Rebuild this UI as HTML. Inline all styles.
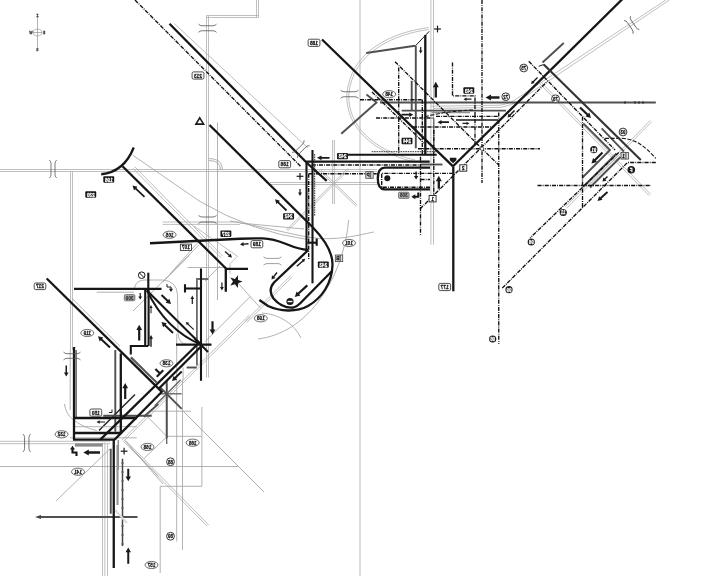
<!DOCTYPE html>
<html><head><meta charset="utf-8"><title>diagram</title>
<style>
html,body{margin:0;padding:0;background:#fff;overflow:hidden}
svg{display:block;font-family:"Liberation Sans",sans-serif}
line,path,polyline{fill:none}
.k{stroke:#161616;stroke-width:2.3}
.k2{stroke:#161616;stroke-width:2.1}
.k1{stroke:#1a1a1a;stroke-width:1.0}
.dg{stroke:#505050;stroke-width:1.9}
.dg2{stroke:#606060;stroke-width:1.3}
.mg{stroke:#909090;stroke-width:1.5}
.g{stroke:#a0a0a0;stroke-width:0.8}
.lg{stroke:#a9a9a9;stroke-width:0.75}
.vl{stroke:#dcdcdc;stroke-width:2.0}
.dd{stroke:#111;stroke-width:1.35;stroke-dasharray:4.1 1.1 0.9 1.1}
.dt{stroke:#333;stroke-width:1.0;stroke-dasharray:1.6 0.8}
.ds{stroke:#1a1a1a;stroke-width:1.15;stroke-dasharray:4 1.6}
.pl{stroke:#1a1a1a;stroke-width:1.2}
</style></head><body>
<svg width="720" height="576" viewBox="0 0 720 576" style="opacity:0.999">
<defs><filter id="nf" x="-20%" y="-20%" width="140%" height="140%"><feOffset dx="0" dy="0"/></filter></defs>
<rect width="720" height="576" fill="#fff"/>
<line class="vl" x1="360" y1="0" x2="360" y2="576"/>
<line class="lg" x1="206.5" y1="15.5" x2="206.5" y2="377.5"/>
<line class="lg" x1="208.5" y1="15.5" x2="208.5" y2="377.5"/>
<line class="lg" x1="206.5" y1="17.5" x2="258.5" y2="17.5"/>
<line class="lg" x1="206.5" y1="15.5" x2="258.5" y2="15.5"/>
<line class="lg" x1="256.5" y1="0.0" x2="256.5" y2="17.5"/>
<line class="lg" x1="258.5" y1="0.0" x2="258.5" y2="17.5"/>
<line class="lg" x1="0.0" y1="171.5" x2="310.0" y2="171.5"/>
<line class="lg" x1="0.0" y1="169.5" x2="310.0" y2="169.5"/>
<line class="lg" x1="70.5" y1="171.5" x2="70.5" y2="350.0"/>
<line class="lg" x1="72.5" y1="171.5" x2="72.5" y2="350.0"/>
<line class="g" x1="70.2" y1="350" x2="70.2" y2="410"/>
<line class="lg" x1="0.0" y1="443.7" x2="110.0" y2="443.7"/>
<line class="lg" x1="0.0" y1="441.3" x2="110.0" y2="441.3"/>
<line class="lg" x1="102.5" y1="442.5" x2="102.5" y2="576.0"/>
<line class="lg" x1="104.9" y1="442.5" x2="104.9" y2="576.0"/>
<line class="lg" x1="107.5" y1="444" x2="107.5" y2="576"/>
<line class="lg" x1="430.9" y1="0.0" x2="430.9" y2="244.7"/>
<line class="lg" x1="433.5" y1="0.0" x2="433.5" y2="244.7"/>
<path class="lg" d="M431,106.2 L500,105.2 Q510,104 520,96.5 L666.5,-0.5"/>
<path class="lg" d="M433,108.4 L501,107.4 Q512,106 522,98.7 L669.5,0"/>
<path class="lg" d="M428.8,29.5 C395,34 352,52 348.8,95 C348,125 372,150 415,160"/>
<path class="lg" d="M428.8,27.5 C394,32 350,50 346.8,95 C346,126 371,152 415,162"/>
<line class="lg" x1="539.28" y1="83.2" x2="649.28" y2="195.7"/>
<line class="lg" x1="540.72" y1="81.8" x2="650.72" y2="194.3"/>
<line class="lg" x1="650.29" y1="120.3" x2="565.29" y2="206.8"/>
<line class="lg" x1="651.71" y1="121.7" x2="566.71" y2="208.2"/>
<line class="lg" x1="132.9" y1="168.34" x2="221.15" y2="257.84"/>
<line class="lg" x1="134.6" y1="166.66" x2="222.85" y2="256.16"/>
<line class="lg" x1="174.5" y1="23.75" x2="308" y2="148"/>
<line class="lg" x1="332.6" y1="140.0" x2="332.6" y2="204.0"/>
<line class="lg" x1="334.4" y1="140.0" x2="334.4" y2="204.0"/>
<line class="lg" x1="347.73" y1="168.44" x2="286.43" y2="229.94"/>
<line class="lg" x1="348.87" y1="169.56" x2="287.57" y2="231.06"/>
<line class="lg" x1="319.44" y1="170.57" x2="356.14" y2="206.37"/>
<line class="lg" x1="320.56" y1="169.43" x2="357.26" y2="205.23"/>
<line class="lg" x1="249.3" y1="315.09" x2="121.8" y2="440.29"/>
<line class="lg" x1="250.7" y1="316.51" x2="123.2" y2="441.71"/>
<line class="lg" x1="270.0" y1="184.5" x2="377.0" y2="184.5"/>
<line class="lg" x1="270.0" y1="182.5" x2="377.0" y2="182.5"/>
<line class="lg" x1="310.0" y1="171.5" x2="377.0" y2="171.5"/>
<line class="lg" x1="310.0" y1="169.5" x2="377.0" y2="169.5"/>
<line class="g" x1="217.5" y1="122.5" x2="217.5" y2="300"/>
<path class="g" d="M209,158.5 Q222.5,158.5 222.5,170"/>
<path class="g" d="M209,160.5 Q220.5,160.5 220.5,170"/>
<path class="g" d="M132.5,155 L200,201.5 Q252,232 308,239.6"/>
<line class="lg" x1="162.5" y1="224.4" x2="240.0" y2="224.4"/>
<line class="lg" x1="162.5" y1="222.0" x2="240.0" y2="222.0"/>
<polyline class="lg" points="193.75,226 237.5,256.25 230,263.75 230,273.75"/>
<line class="g" x1="198.75" y1="245" x2="162.5" y2="282.5"/>
<line class="g" x1="220" y1="266" x2="205" y2="281"/>
<line class="g" x1="187.5" y1="267.5" x2="225" y2="267.5"/>
<line class="g" x1="240" y1="223" x2="304" y2="229"/>
<line class="lg" x1="290.99" y1="275.3" x2="245.29" y2="321.3"/>
<line class="lg" x1="292.41" y1="276.7" x2="246.71" y2="322.7"/>
<line class="g" x1="200" y1="240" x2="170" y2="274"/>
<line class="g" x1="189.6" y1="255" x2="133" y2="311"/>
<line class="g" x1="250" y1="296.7" x2="205" y2="341.7"/>
<path class="g" d="M134.4,288.3 Q136,280 144.8,280 L162.5,280 Q177,281 177.5,295 L178,334 Q179,344 187.5,344.6"/>
<path class="g" d="M348.75,220 C346,250 335,280 318,302 C303,322 282,336 258,339"/>
<path class="g" d="M262,313 C280,314 295,325 301,338"/>
<path class="g" d="M230,221 C260,226 290,234 310,237.5 C335,241 355,236 373.75,232"/>
<line class="g" x1="237.5" y1="282.5" x2="260" y2="307.5"/>
<line class="g" x1="0" y1="466.5" x2="238.8" y2="466.5"/>
<line class="g" x1="110" y1="448.75" x2="56" y2="501"/>
<line class="lg" x1="124.29" y1="441.95" x2="207.29" y2="526.4"/>
<line class="lg" x1="125.71" y1="440.55" x2="208.71" y2="525.0"/>
<line class="g" x1="183" y1="411" x2="264.1" y2="492.1"/>
<line class="g" x1="146.7" y1="415.8" x2="167" y2="436.7"/>
<line class="g" x1="167" y1="436.7" x2="144.2" y2="458.3"/>
<line class="g" x1="130" y1="446.7" x2="158.3" y2="476"/>
<line class="g" x1="151.7" y1="411.2" x2="190.8" y2="411.2"/>
<line class="g" x1="167" y1="436.3" x2="201.7" y2="436.3"/>
<line class="g" x1="182.5" y1="380" x2="182.5" y2="550"/>
<polyline class="g" points="201.9,407 201.9,486.3 160.2,486.3 160.2,573"/>
<line class="g" x1="176.7" y1="334" x2="176.7" y2="541.6"/>
<line class="g" x1="183.1" y1="367.5" x2="183.1" y2="380"/>
<line class="g" x1="125" y1="440.7" x2="163" y2="484"/>
<line class="dg" x1="380" y1="102.5" x2="655.8" y2="102.5"/>
<line class="k1" x1="625" y1="101.2" x2="625" y2="103.8"/>
<line class="k1" x1="635" y1="101.2" x2="635" y2="103.8"/>
<line class="k1" x1="639" y1="101.2" x2="639" y2="103.8"/>
<line class="k1" x1="643" y1="101.2" x2="643" y2="103.8"/>
<line class="dg" x1="401.7" y1="110.6" x2="506" y2="110.6"/>
<line class="dg" x1="456" y1="120" x2="498" y2="120"/>
<line class="mg" x1="431.7" y1="112.6" x2="470" y2="112.6"/>
<line class="dg" x1="366.25" y1="53" x2="415" y2="45.75"/>
<line class="dg" x1="415.8" y1="45.75" x2="415.8" y2="148.3"/>
<line class="dg" x1="411.7" y1="80.8" x2="411.7" y2="110.8"/>
<polyline class="dg" points="341.25,133.75 376.5,102.5 366.5,94.5"/>
<line class="dg2" x1="433.8" y1="118.3" x2="433.8" y2="146"/>
<line class="dg" x1="542.5" y1="62.5" x2="563.75" y2="43"/>
<line class="dg" x1="420.8" y1="164.5" x2="442.5" y2="164.5"/>
<polyline class="dg" points="583.3,123.3 610,150 582.5,177.5"/>
<line class="dg" x1="601.7" y1="128.3" x2="624" y2="151.7"/>
<line class="dg" x1="616.5" y1="153.5" x2="584" y2="186"/>
<line class="dg" x1="620.5" y1="157" x2="590" y2="187.5"/>
<line class="lg" x1="618.3" y1="155.2" x2="587" y2="186.5"/>
<polyline points="208.3,279 196.9,279 196.9,365.4" fill="none" stroke="#6a6a6a" stroke-width="1.8"/>
<line class="dg" x1="115.3" y1="350" x2="115.3" y2="431.7"/>
<line class="dg" x1="130.8" y1="357.5" x2="156.7" y2="382.5"/>
<line x1="135" y1="394.5" x2="99" y2="430.5" stroke="#222" stroke-width="1.4"/>
<line class="dg" x1="158.3" y1="404" x2="143.75" y2="416.7"/>
<line class="dg" x1="103.3" y1="415.8" x2="151.7" y2="415.8"/>
<line x1="75" y1="445" x2="102.5" y2="445" stroke="#8a8a8a" stroke-width="3.2"/>
<line class="k1" x1="76.1" y1="350" x2="76.1" y2="418.9"/>
<line class="g" x1="74" y1="426.7" x2="136.7" y2="426.7"/>
<line class="g" x1="70" y1="437.8" x2="136.7" y2="437.8"/>
<path class="g" d="M64.4,403.9 Q66,414 72.2,418.9 Q82,427 96.7,430.6"/>
<line class="dg" x1="186.7" y1="367.5" x2="196.7" y2="367.5"/>
<line class="dg2" x1="131.25" y1="357" x2="144.8" y2="370.6"/>
<line class="dg" x1="110.75" y1="448.75" x2="110.75" y2="513.75"/>
<line x1="117.5" y1="445" x2="117.5" y2="505" stroke="#999" stroke-width="2.2"/>
<line x1="122.5" y1="458.75" x2="122.5" y2="546" stroke="#444" stroke-width="1.5"/>
<line class="dg2" x1="121.3" y1="463" x2="123.7" y2="463"/>
<line class="dg2" x1="121.3" y1="472" x2="123.7" y2="472"/>
<line class="dg2" x1="121.3" y1="481" x2="123.7" y2="481"/>
<line class="dg2" x1="121.3" y1="490" x2="123.7" y2="490"/>
<line class="dg2" x1="121.3" y1="499" x2="123.7" y2="499"/>
<line class="dg2" x1="121.3" y1="508" x2="123.7" y2="508"/>
<line class="dg2" x1="121.3" y1="517" x2="123.7" y2="517"/>
<line class="dg2" x1="121.3" y1="526" x2="123.7" y2="526"/>
<line class="dg2" x1="121.3" y1="535" x2="123.7" y2="535"/>
<line class="dg2" x1="121.3" y1="544" x2="123.7" y2="544"/>
<line class="mg" x1="118.3" y1="440" x2="118.3" y2="470"/>
<line class="dg2" x1="166.7" y1="384" x2="166.7" y2="444"/>
<line class="dg" x1="166.7" y1="380.8" x2="166.7" y2="438.3"/>
<line class="dg2" x1="158.7" y1="393.8" x2="181.7" y2="393.8"/>
<line class="dg2" x1="154.7" y1="405.8" x2="180.7" y2="379.8"/>
<line class="dg" x1="160.7" y1="387.8" x2="181.7" y2="408.8"/>
<line class="dg" x1="38" y1="517" x2="137.5" y2="517"/>
<polygon fill="#444" points="35,517 41,515 41,519"/>
<line class="vl" x1="115" y1="510" x2="127" y2="523"/>
<line class="dd" x1="135" y1="0" x2="301" y2="166.7"/>
<line class="dd" x1="395" y1="61.7" x2="474" y2="140.8"/>
<line class="dd" x1="398.7" y1="67.5" x2="398.7" y2="154"/>
<polyline class="dd" points="452.5,62.5 452.5,95.8 475,95.8 475,146"/>
<line class="dd" x1="482" y1="0" x2="482" y2="183"/>
<line class="dd" x1="360" y1="99.7" x2="423" y2="99.7"/>
<line class="dd" x1="376" y1="118" x2="434" y2="118"/>
<line class="dd" x1="436" y1="116.4" x2="498.5" y2="116.4"/>
<line class="dd" x1="422.3" y1="99.7" x2="422.3" y2="154"/>
<line class="dd" x1="413" y1="127" x2="491" y2="127"/>
<line class="dd" x1="372" y1="92" x2="424" y2="143"/>
<line class="dd" x1="420" y1="209" x2="547.5" y2="81.25"/>
<line class="dd" x1="528.75" y1="61.25" x2="615" y2="150"/>
<line class="dd" x1="582.5" y1="116.7" x2="582.5" y2="207.5"/>
<line class="dd" x1="498.75" y1="112.5" x2="498.75" y2="343.7"/>
<line class="dd" x1="480" y1="148.75" x2="540" y2="148.75"/>
<line class="dd" x1="476" y1="143" x2="498.75" y2="165"/>
<line class="dd" x1="418" y1="148.7" x2="482" y2="148.7"/>
<line class="dd" x1="537.5" y1="185.5" x2="651" y2="185.5"/>
<polyline class="dd" points="655.8,162.5 627.5,162.5 501.7,288.7"/>
<line class="dd" x1="618.75" y1="152.5" x2="530" y2="238"/>
<line class="dd" x1="311.7" y1="165" x2="420" y2="165"/>
<line class="dd" x1="308.7" y1="173.7" x2="376.7" y2="173.7"/>
<line class="dd" x1="308.7" y1="173.7" x2="308.7" y2="259.4"/>
<line class="dd" x1="420.5" y1="156.7" x2="420.5" y2="234.7"/>
<line class="dd" x1="433.8" y1="130" x2="433.8" y2="200"/>
<line class="dt" x1="371.7" y1="151.7" x2="436.7" y2="151.7"/>
<line class="dt" x1="314.7" y1="154" x2="314.7" y2="215.8"/>
<path class="dd" d="M430,187.2 L381.7,187.2 L381.7,173.3 L452.5,173.3"/>
<line class="dd" x1="420.5" y1="179.5" x2="430" y2="179.5"/>
<path class="ds" d="M605,138.3 L622,138.3 C638,139 648,150 655.8,158.3"/>
<path class="ds" d="M425,116.7 C440,113 455,110.5 473,110"/>
<line class="k" x1="169.5" y1="23.75" x2="307" y2="163"/>
<line class="k" x1="307" y1="163" x2="326.7" y2="180.8"/>
<line class="k" x1="322" y1="39.5" x2="453" y2="166.3"/>
<line class="k" x1="453" y1="166.3" x2="623.5" y2="-2"/>
<line class="k" x1="453.3" y1="166.5" x2="453.3" y2="291.3"/>
<line class="k" x1="425.3" y1="35" x2="425.3" y2="154.7"/>
<line class="k1" x1="429.25" y1="31.25" x2="415.5" y2="45.75"/>
<line class="k1" x1="538.75" y1="66.25" x2="543.75" y2="64.5"/>
<line x1="543.75" y1="64.5" x2="640.8" y2="160" stroke="#333" stroke-width="2.1"/>
<line class="k2" x1="347.5" y1="154.7" x2="436.7" y2="154.7"/>
<line class="k" x1="306.3" y1="161.7" x2="429.7" y2="161.7"/>
<line class="k2" x1="312.5" y1="150" x2="312.5" y2="283.3"/>
<line class="k2" x1="306.5" y1="162.5" x2="306.5" y2="249"/>
<path class="k" d="M430,167.6 L384.5,167.6 C379.5,168 377.8,172 377.8,178.5 C377.8,185 379.5,189 384.5,189.4 L430,189.4"/>
<circle cx="387.3" cy="178.2" r="3" fill="#1a1a1a"/>
<polygon fill="#1a1a1a" points="449.8,157.8 456.4,157.8 456.4,160.2 453.1,163.3 449.8,160.2"/>
<path class="k" d="M133.75,147.5 Q124,172 101.25,174.25"/>
<line class="k" x1="122.5" y1="166.25" x2="226.25" y2="268.75"/>
<polyline class="k" points="248,268.9 225.8,268.9 225.8,291.7"/>
<path class="k" d="M150,243.25 L240,238.75 L262.5,238.3 C282,238.5 290,249 308,250"/>
<line class="k" x1="209.5" y1="125" x2="312.5" y2="227"/>
<path class="k" d="M312.5,227 C325,240 333,252 332.5,265 C332,283 322,298 308,306 C296,312.5 280,311.5 268,306 L259.4,300"/>
<path class="k" d="M308.3,250 L274,282.5 Q267.5,290 273.5,298.5 Q282,308.5 293.5,307.5 Q297,306.5 300,303.5 L332.3,270.8"/>
<line class="k2" x1="307.3" y1="242.7" x2="316.7" y2="242.7"/>
<line class="k2" x1="316.7" y1="238.5" x2="316.7" y2="245.8"/>
<line class="k" x1="46.7" y1="278.5" x2="162.4" y2="392.4"/>
<line class="k" x1="74" y1="347" x2="74" y2="439.6"/>
<line class="k" x1="74" y1="418" x2="137" y2="418"/>
<line class="k" x1="74" y1="433" x2="121.5" y2="433"/>
<line class="k" x1="73" y1="439.6" x2="115" y2="439.6"/>
<line class="k" x1="120.8" y1="353.3" x2="120.8" y2="433"/>
<line class="k" x1="113.75" y1="439" x2="113.75" y2="568"/>
<line class="k" x1="196.8" y1="345" x2="100.3" y2="439.6"/>
<line class="k" x1="201" y1="346.5" x2="158.7" y2="388.8"/>
<line class="k" x1="161.9" y1="391.8" x2="114.6" y2="439.6"/>
<line class="k2" x1="74" y1="288.9" x2="161.5" y2="288.9"/>
<line class="g" x1="96.7" y1="292.2" x2="134" y2="292.2"/>
<line class="g" x1="71.7" y1="298" x2="120" y2="346.3"/>
<line class="k2" x1="148.3" y1="272.7" x2="148.3" y2="288.9"/>
<line class="k2" x1="145.2" y1="289.4" x2="145.2" y2="346"/>
<line class="k2" x1="148.6" y1="289.4" x2="148.6" y2="346"/>
<polyline class="k2" points="148.3,346 130.8,346 130.8,354.6"/>
<line class="k2" x1="146.9" y1="290.4" x2="201" y2="344.6"/>
<path class="k2" d="M146.9,290.4 Q166,330 201,344.6"/>
<line class="k2" x1="176" y1="344.6" x2="211.5" y2="344.6"/>
<line class="k2" x1="201" y1="268.5" x2="201" y2="380.8"/>
<line class="k2" x1="194.5" y1="338.3" x2="208" y2="352"/>
<line class="k2" x1="185" y1="284.2" x2="185" y2="292.5"/>
<line class="k2" x1="185" y1="288.5" x2="201" y2="288.5"/>
<polygon fill="#1a1a1a" points="436.95,97.5 436.95,87.2 438.8,87.2 435.8,81.7 432.8,87.2 434.65,87.2 434.65,97.5"/>
<polygon fill="#1a1a1a" points="401.5,115.6 409.3,115.6 409.3,117.0 413.3,114.7 409.3,112.4 409.3,113.8 401.5,113.8"/>
<polygon fill="#1a1a1a" points="449.0,121.3 441.5,121.3 441.5,119.9 437.5,122.2 441.5,124.5 441.5,123.1 449.0,123.1"/>
<polygon fill="#1a1a1a" points="462.5,124.0 466.5,124.0 466.5,125.1 469.5,123.4 466.5,121.7 466.5,122.8 462.5,122.8"/>
<polygon fill="#1a1a1a" points="471.5,98.6 466.5,98.6 466.5,97.5 463.5,99.2 466.5,100.9 466.5,99.8 471.5,99.8"/>
<polygon fill="#1a1a1a" points="499.5,96.35 491.0,96.35 491.0,94.5 485.5,97.5 491.0,100.5 491.0,98.65 499.5,98.65"/>
<polygon fill="#1a1a1a" points="329.5,156.9 321.5,156.9 321.5,155.4 317,157.8 321.5,160.2 321.5,158.7 329.5,158.7"/>
<polygon fill="#1a1a1a" points="287.13,209.86 278.85,201.79 279.97,200.65 275,199.3 276.48,204.23 277.6,203.08 285.87,211.14"/>
<polygon fill="#1a1a1a" points="145.12,196.14 136.39,187.93 137.49,186.76 132.5,185.5 134.06,190.41 135.16,189.24 143.88,197.46"/>
<polygon fill="#1a1a1a" points="439.95,188.7 439.95,181.3 441.8,181.3 438.8,175.8 435.8,181.3 437.65,181.3 437.65,188.7"/>
<polygon fill="#1a1a1a" points="415.45,171.5 415.45,176.0 413.9,176.0 416.1,179.6 418.3,176.0 416.75,176.0 416.75,171.5"/>
<polygon fill="#1a1a1a" points="420.1,47.0 420.1,50.5 418.9,50.5 420.7,53.5 422.5,50.5 421.3,50.5 421.3,47.0"/>
<polygon fill="#1a1a1a" points="537.01,77.01 532.77,81.24 531.92,80.39 531,84 534.61,83.08 533.76,82.23 537.99,77.99"/>
<polygon fill="#1a1a1a" points="513.93,109.93 509.48,114.39 508.56,113.47 507.5,117.5 511.53,116.44 510.61,115.52 515.07,111.07"/>
<polygon fill="#1a1a1a" points="579.24,108.3 586.62,115.34 585.45,116.57 591,118 589.32,112.52 588.14,113.75 580.76,106.7"/>
<polygon fill="#1a1a1a" points="601.72,151.72 594.26,159.19 593.06,157.98 591.5,163.5 597.02,161.94 595.81,160.74 603.28,153.28"/>
<polygon fill="#1a1a1a" points="607.01,176.01 604.41,178.6 603.35,177.54 602.5,181.5 606.46,180.65 605.4,179.59 607.99,176.99"/>
<polygon fill="#1a1a1a" points="606.86,191.29 600.21,197.28 599.17,196.13 597.5,201 602.52,199.85 601.48,198.7 608.14,192.71"/>
<polygon fill="#1a1a1a" points="297.27,266.82 303.28,261.45 304.01,262.27 305.2,258.8 301.61,259.59 302.35,260.41 296.33,265.78"/>
<polygon fill="#1a1a1a" points="306.56,284.59 297.73,292.71 296.58,291.45 294.8,296.9 300.38,295.58 299.22,294.32 308.04,286.21"/>
<polygon fill="#1a1a1a" points="276.45,272.07 273.17,276.24 271.99,275.31 271.5,279.5 275.45,278.03 274.27,277.1 277.55,272.93"/>
<polygon fill="#1a1a1a" points="248.43,243.0 243.52,243.47 243.39,242.07 240,244.5 243.78,246.25 243.65,244.86 248.57,244.4"/>
<polygon fill="#1a1a1a" points="224.54,252.03 228.81,255.69 227.9,256.75 232,257.5 230.63,253.56 229.72,254.63 225.46,250.97"/>
<polygon fill="#1a1a1a" points="221.3,282.5 221.3,287.1 220.0,287.1 221.9,290.5 223.8,287.1 222.5,287.1 222.5,282.5"/>
<polygon fill="#1a1a1a" points="299.4,189.0 299.4,192.6 298.1,192.6 300,196 301.9,192.6 300.6,192.6 300.6,189.0"/>
<polygon fill="#1a1a1a" points="160.81,295.73 166.83,301.42 165.66,302.66 171,304 169.37,298.74 168.2,299.97 162.19,294.27"/>
<polygon fill="#1a1a1a" points="173.69,332.28 165.66,324.6 166.83,323.37 161.5,322 163.1,327.27 164.28,326.04 172.31,333.72"/>
<polygon fill="#1a1a1a" points="194.21,329.17 188.39,323.63 189.15,322.83 185.8,322 186.8,325.3 187.56,324.5 193.39,330.03"/>
<polygon fill="#1a1a1a" points="140.3,340.4 140.3,330.0 142.1,330.0 139.2,324.8 136.3,330.0 138.1,330.0 138.1,340.4"/>
<polygon fill="#1a1a1a" points="151.5,313.3 151.5,308.0 152.6,308.0 151,305 149.4,308.0 150.5,308.0 150.5,313.3"/>
<polygon fill="#1a1a1a" points="151.7,346.7 151.7,338.8 153.0,338.8 151,335 149.0,338.8 150.3,338.8 150.3,346.7"/>
<polygon fill="#1a1a1a" points="192.9,304.0 192.9,299.0 194.1,299.0 192.3,295.6 190.5,299.0 191.7,299.0 191.7,304.0"/>
<polygon fill="#1a1a1a" points="211.4,321.3 211.4,329.4 209.6,329.4 212.5,334.6 215.4,329.4 213.6,329.4 213.6,321.3"/>
<polygon fill="#1a1a1a" points="139.6,293.0 139.6,296.4 138.3,296.4 140.2,299.6 142.1,296.4 140.8,296.4 140.8,293.0"/>
<polygon fill="#1a1a1a" points="110.68,346.77 102.19,338.84 103.35,337.6 98,336.3 99.67,341.55 100.83,340.31 109.32,348.23"/>
<polygon fill="#1a1a1a" points="65.5,365.5 65.5,372.5 63.95,372.5 66.25,376.5 68.55,372.5 67.0,372.5 67.0,365.5"/>
<polygon fill="#1a1a1a" points="181.0,370.79 174.59,377.07 173.47,375.92 172,381 177.11,379.64 175.99,378.5 182.4,372.21"/>
<polygon fill="#1a1a1a" points="126.3,399.0 126.3,388.2 128.1,388.2 125.2,383 122.3,388.2 124.1,388.2 124.1,399.0"/>
<polygon fill="#1a1a1a" points="105.0,421.4 99.7,421.4 99.7,420.2 96.5,422 99.7,423.8 99.7,422.6 105.0,422.6"/>
<polygon fill="#1a1a1a" points="100.0,451.35 88.8,451.35 88.8,449.5 83.3,452.5 88.8,455.5 88.8,453.65 100.0,453.65"/>
<polygon fill="#1a1a1a" points="127.25,468.75 127.25,476.45 125.55,476.45 128.25,481.25 130.95,476.45 129.25,476.45 129.25,468.75"/>
<polygon fill="#1a1a1a" points="129.25,563.75 129.25,552.3 130.95,552.3 128.25,547.5 125.55,552.3 127.25,552.3 127.25,563.75"/>
<polyline class="k2" points="76.5,456 76.5,452.5 72.5,452.5 72.5,448"/>
<polygon fill="#1a1a1a" points="72.5,445.8 75,449.6 70,449.6"/>
<polyline class="k1" points="167,284 167,287 171,287 171,290"/>
<polygon fill="#1a1a1a" points="171,292 169,288.8 173,288.8"/>
<polyline class="k2" points="418.3,192.5 418.3,196.7 413,196.7"/>
<polygon fill="#1a1a1a" points="411.3,196.7 415.3,194.2 415.3,199.2"/>
<polyline class="k1" points="112,409.5 112,412.5 109,412.5"/>
<line class="g" x1="37.5" y1="16.7" x2="37.5" y2="47.6"/>
<line class="g" x1="32.8" y1="32.5" x2="42.2" y2="32.5"/>
<ellipse cx="37.5" cy="32.5" rx="4.4" ry="3.4" fill="none" stroke="#999" stroke-width="0.7"/>
<text filter="url(#nf)" transform="translate(37.5,15.2) scale(-0.8,1)" text-anchor="middle" font-size="4.21" font-weight="bold" fill="#333" stroke="#333" stroke-width="0.25" dy="1.52">Z</text>
<text filter="url(#nf)" transform="translate(37.5,49) scale(-0.8,1)" text-anchor="middle" font-size="4.21" font-weight="bold" fill="#333" stroke="#333" stroke-width="0.25" dy="1.52">S</text>
<text filter="url(#nf)" transform="translate(31,32.4) scale(-0.8,1)" text-anchor="middle" font-size="4.21" font-weight="bold" fill="#333" stroke="#333" stroke-width="0.25" dy="1.52">W</text>
<text filter="url(#nf)" transform="translate(44.2,32.4) scale(-0.8,1)" text-anchor="middle" font-size="4.21" font-weight="bold" fill="#333" stroke="#333" stroke-width="0.25" dy="1.52">E</text>
<path d="M198.5,24.15 Q200.0,25.75 202.0,25.75 L213.0,25.75 Q215.0,25.75 216.5,24.15" fill="none" stroke="#555" stroke-width="0.8"/>
<path d="M198.5,32.35 Q200.0,30.75 202.0,30.75 L213.0,30.75 Q215.0,30.75 216.5,32.35" fill="none" stroke="#555" stroke-width="0.8"/>
<path d="M340.5,90.15 Q342.0,91.75 344.0,91.75 L355.0,91.75 Q357.0,91.75 358.5,90.15" fill="none" stroke="#555" stroke-width="0.8"/>
<path d="M340.5,98.35 Q342.0,96.75 344.0,96.75 L355.0,96.75 Q357.0,96.75 358.5,98.35" fill="none" stroke="#555" stroke-width="0.8"/>
<path d="M198.5,215.4 Q200.0,217.0 202.0,217.0 L213.0,217.0 Q215.0,217.0 216.5,215.4" fill="none" stroke="#555" stroke-width="0.8"/>
<path d="M198.5,223.6 Q200.0,222.0 202.0,222.0 L213.0,222.0 Q215.0,222.0 216.5,223.6" fill="none" stroke="#555" stroke-width="0.8"/>
<path d="M263.5,256.79999999999995 Q265.0,258.4 267.0,258.4 L278.0,258.4 Q280.0,258.4 281.5,256.79999999999995" fill="none" stroke="#888" stroke-width="0.8"/>
<path d="M263.5,265.20000000000005 Q265.0,263.6 267.0,263.6 L278.0,263.6 Q280.0,263.6 281.5,265.20000000000005" fill="none" stroke="#888" stroke-width="0.8"/>
<path d="M63.5,352.09999999999997 Q65.0,353.7 67.0,353.7 L77.0,353.7 Q79.0,353.7 80.5,352.09999999999997" fill="none" stroke="#555" stroke-width="0.8"/>
<path d="M63.5,359.90000000000003 Q65.0,358.3 67.0,358.3 L77.0,358.3 Q79.0,358.3 80.5,359.90000000000003" fill="none" stroke="#555" stroke-width="0.8"/>
<path d="M49.4,160.0 Q51.0,161.5 51.0,163.5 L51.0,174.5 Q51.0,176.5 49.4,178.0" fill="none" stroke="#555" stroke-width="0.8"/>
<path d="M56.6,160.0 Q55.0,161.5 55.0,163.5 L55.0,174.5 Q55.0,176.5 56.6,178.0" fill="none" stroke="#555" stroke-width="0.8"/>
<path d="M22.95,434.0 Q24.55,435.5 24.55,437.5 L24.55,448.5 Q24.55,450.5 22.95,452.0" fill="none" stroke="#555" stroke-width="0.8"/>
<path d="M30.55,434.0 Q28.95,435.5 28.95,437.5 L28.95,448.5 Q28.95,450.5 30.55,452.0" fill="none" stroke="#555" stroke-width="0.8"/>
<g transform="translate(300.8,149) rotate(45)">
<path d="M-3.8000000000000003,-8.5 Q-2.2,-7.0 -2.2,-5.0 L-2.2,5.0 Q-2.2,7.0 -3.8000000000000003,8.5" fill="none" stroke="#555" stroke-width="0.8"/>
<path d="M3.8000000000000003,-8.5 Q2.2,-7.0 2.2,-5.0 L2.2,5.0 Q2.2,7.0 3.8000000000000003,8.5" fill="none" stroke="#555" stroke-width="0.8"/>
</g>
<g transform="translate(631.7,25) rotate(56)">
<path d="M-8.0,-3.8000000000000003 Q-6.5,-2.2 -4.5,-2.2 L4.5,-2.2 Q6.5,-2.2 8.0,-3.8000000000000003" fill="none" stroke="#555" stroke-width="0.8"/>
<path d="M-8.0,3.8000000000000003 Q-6.5,2.2 -4.5,2.2 L4.5,2.2 Q6.5,2.2 8.0,3.8000000000000003" fill="none" stroke="#555" stroke-width="0.8"/>
</g>
<polygon points="199.75,117.8 203.6,124.1 195.9,124.1" fill="#fff" stroke="#1a1a1a" stroke-width="1.6" stroke-linejoin="miter"/>
<line class="pl" x1="434.1" y1="29" x2="440.9" y2="29"/>
<line class="pl" x1="437.5" y1="25.6" x2="437.5" y2="32.4"/>
<line class="pl" x1="296.6" y1="176.3" x2="303.4" y2="176.3"/>
<line class="pl" x1="300" y1="172.9" x2="300" y2="179.70000000000002"/>
<line class="pl" x1="120.69999999999999" y1="451.2" x2="127.5" y2="451.2"/>
<line class="pl" x1="124.1" y1="447.8" x2="124.1" y2="454.59999999999997"/>
<polygon fill="#1a1a1a" points="237.9,275.13 238.07,279.95 242.6,281.6 238.07,283.25 237.9,288.07 234.93,284.26 230.3,285.6 233.0,281.6 230.3,277.6 234.93,278.94"/>
<circle cx="141.7" cy="275.2" r="3.3" fill="#fff" stroke="#1a1a1a" stroke-width="1"/>
<line class="k1" x1="139.4" y1="272.9" x2="144" y2="277.5"/>
<circle cx="290" cy="301.5" r="3.6" fill="#1a1a1a"/>
<rect x="287.6" y="300.8" width="4.8" height="1.4" fill="#fff"/>
<g transform="translate(160,373.6) rotate(-45)" stroke="#1a1a1a" stroke-width="2.1">
<line x1="-4.6" y1="0" x2="4.6" y2="0"/><line x1="0" y1="0" x2="0" y2="-6.5"/>
</g>
<circle cx="482" cy="148.7" r="1.8" fill="#fff" stroke="#333" stroke-width="0.7"/>
<rect x="429.1" y="195.5" width="7" height="6.4" fill="#fff" stroke="#222" stroke-width="0.9"/>
<text filter="url(#nf)" transform="translate(432.6,198.7) scale(-0.8,1)" text-anchor="middle" font-size="5.85" font-weight="bold" fill="#111" stroke="#111" stroke-width="0.25" dy="2.11">1</text>
<rect x="459.8" y="164.8" width="7" height="6.4" fill="#fff" stroke="#222" stroke-width="0.9"/>
<text filter="url(#nf)" transform="translate(463.3,168) scale(-0.8,1)" text-anchor="middle" font-size="5.85" font-weight="bold" fill="#111" stroke="#111" stroke-width="0.25" dy="2.11">2</text>
<rect x="365.8" y="171.7" width="7.4" height="6.6" fill="#ddd" stroke="#444" stroke-width="0.8"/>
<line x1="370.7" y1="171.7" x2="370.7" y2="178.3" stroke="#444" stroke-width="0.9"/>
<text filter="url(#nf)" transform="translate(368.3,175) scale(-0.8,1)" text-anchor="middle" font-size="5.85" font-weight="bold" fill="#111" stroke="#111" stroke-width="0.25" dy="2.11">P</text>
<rect x="335.3" y="255.0" width="7.4" height="6.6" fill="#ddd" stroke="#444" stroke-width="0.8"/>
<line x1="340.2" y1="255.0" x2="340.2" y2="261.6" stroke="#444" stroke-width="0.9"/>
<text filter="url(#nf)" transform="translate(337.8,258.3) scale(-0.8,1)" text-anchor="middle" font-size="5.85" font-weight="bold" fill="#111" stroke="#111" stroke-width="0.25" dy="2.11">B</text>
<rect x="621.0" y="152.5" width="7.4" height="6.6" fill="#ddd" stroke="#444" stroke-width="0.8"/>
<line x1="625.9000000000001" y1="152.5" x2="625.9000000000001" y2="159.10000000000002" stroke="#444" stroke-width="0.9"/>
<text filter="url(#nf)" transform="translate(623.5,155.8) scale(-0.8,1)" text-anchor="middle" font-size="5.85" font-weight="bold" fill="#111" stroke="#111" stroke-width="0.25" dy="2.11">1</text>
<rect x="192.1" y="71.9" width="11.8" height="7.2" rx="1.5" fill="#fff" stroke="#222" stroke-width="0.8"/>
<text filter="url(#nf)" transform="translate(198,75.5) scale(-0.8,1)" text-anchor="middle" font-size="6.08" font-weight="bold" fill="#111" stroke="#111" stroke-width="0.25" dy="2.19">213</text>
<rect x="308.1" y="39.199999999999996" width="11.8" height="7.2" rx="1.5" fill="#fff" stroke="#222" stroke-width="0.8"/>
<text filter="url(#nf)" transform="translate(314,42.8) scale(-0.8,1)" text-anchor="middle" font-size="6.08" font-weight="bold" fill="#111" stroke="#111" stroke-width="0.25" dy="2.19">188</text>
<rect x="278.8" y="160.6" width="11.8" height="7.2" rx="1.5" fill="#fff" stroke="#222" stroke-width="0.8"/>
<text filter="url(#nf)" transform="translate(284.7,164.2) scale(-0.8,1)" text-anchor="middle" font-size="6.08" font-weight="bold" fill="#111" stroke="#111" stroke-width="0.25" dy="2.19">186</text>
<rect x="180.35" y="244.1" width="11.1" height="6.3" rx="0" fill="#fff" stroke="#222" stroke-width="0.8"/>
<text filter="url(#nf)" transform="translate(185.9,247.25) scale(-0.8,1)" text-anchor="middle" font-size="6.08" font-weight="bold" fill="#111" stroke="#111" stroke-width="0.25" dy="2.19">107</text>
<rect x="250.99999999999997" y="240.6" width="11.8" height="7.2" rx="1.5" fill="#fff" stroke="#222" stroke-width="0.8"/>
<text filter="url(#nf)" transform="translate(256.9,244.2) scale(-0.8,1)" text-anchor="middle" font-size="6.08" font-weight="bold" fill="#111" stroke="#111" stroke-width="0.25" dy="2.19">189</text>
<rect x="438.8" y="283.4" width="11.8" height="7.2" rx="1.5" fill="#fff" stroke="#222" stroke-width="0.8"/>
<text filter="url(#nf)" transform="translate(444.7,287) scale(-0.8,1)" text-anchor="middle" font-size="6.08" font-weight="bold" fill="#111" stroke="#111" stroke-width="0.25" dy="2.19">177</text>
<rect x="34.2" y="283.0" width="11.6" height="6.6" rx="1.5" fill="#fff" stroke="#222" stroke-width="0.8"/>
<text filter="url(#nf)" transform="translate(40,286.3) scale(-0.8,1)" text-anchor="middle" font-size="6.08" font-weight="bold" fill="#111" stroke="#111" stroke-width="0.25" dy="2.19">217</text>
<rect x="89.89999999999999" y="409.0" width="11.8" height="7.2" rx="1.5" fill="#fff" stroke="#222" stroke-width="0.8"/>
<text filter="url(#nf)" transform="translate(95.8,412.6) scale(-0.8,1)" text-anchor="middle" font-size="6.08" font-weight="bold" fill="#111" stroke="#111" stroke-width="0.25" dy="2.19">150</text>
<rect x="103.3" y="176.35" width="10.9" height="6.3" rx="0.8" fill="#161616"/>
<text filter="url(#nf)" transform="translate(108.75,179.5) scale(-0.8,1)" text-anchor="middle" font-size="5.85" font-weight="bold" fill="#fff" stroke="#fff" stroke-width="0.25" dy="2.11">196</text>
<rect x="85.3" y="191.35" width="10.9" height="6.3" rx="0.8" fill="#161616"/>
<text filter="url(#nf)" transform="translate(90.75,194.5) scale(-0.8,1)" text-anchor="middle" font-size="5.85" font-weight="bold" fill="#fff" stroke="#fff" stroke-width="0.25" dy="2.11">230</text>
<rect x="337.05" y="153.04999999999998" width="10.9" height="6.3" rx="0.8" fill="#161616"/>
<text filter="url(#nf)" transform="translate(342.5,156.2) scale(-0.8,1)" text-anchor="middle" font-size="5.85" font-weight="bold" fill="#fff" stroke="#fff" stroke-width="0.25" dy="2.11">243</text>
<rect x="463.35" y="87.35" width="10.9" height="6.3" rx="0.8" fill="#161616"/>
<text filter="url(#nf)" transform="translate(468.8,90.5) scale(-0.8,1)" text-anchor="middle" font-size="5.85" font-weight="bold" fill="#fff" stroke="#fff" stroke-width="0.25" dy="2.11">243</text>
<rect x="401.55" y="137.85" width="10.9" height="6.3" rx="0.8" fill="#161616"/>
<text filter="url(#nf)" transform="translate(407,141) scale(-0.8,1)" text-anchor="middle" font-size="5.85" font-weight="bold" fill="#fff" stroke="#fff" stroke-width="0.25" dy="2.11">244</text>
<rect x="283.15000000000003" y="213.15" width="10.9" height="6.3" rx="0.8" fill="#161616"/>
<text filter="url(#nf)" transform="translate(288.6,216.3) scale(-0.8,1)" text-anchor="middle" font-size="5.85" font-weight="bold" fill="#fff" stroke="#fff" stroke-width="0.25" dy="2.11">242</text>
<rect x="220.45000000000002" y="230.6" width="10.9" height="6.3" rx="0.8" fill="#161616"/>
<text filter="url(#nf)" transform="translate(225.9,233.75) scale(-0.8,1)" text-anchor="middle" font-size="5.85" font-weight="bold" fill="#fff" stroke="#fff" stroke-width="0.25" dy="2.11">237</text>
<rect x="317.85" y="261.45000000000005" width="10.9" height="6.3" rx="0.8" fill="#161616"/>
<text filter="url(#nf)" transform="translate(323.3,264.6) scale(-0.8,1)" text-anchor="middle" font-size="5.85" font-weight="bold" fill="#fff" stroke="#fff" stroke-width="0.25" dy="2.11">243</text>
<rect x="398.5" y="192.20000000000002" width="10.6" height="6.2" rx="1.2" fill="#b4b4b4" stroke="#555" stroke-width="0.7"/>
<text filter="url(#nf)" transform="translate(403.8,195.3) scale(-0.8,1)" text-anchor="middle" font-size="5.85" font-weight="bold" fill="#3a3a3a" stroke="#3a3a3a" stroke-width="0.25" dy="2.11">306</text>
<rect x="124.3" y="294.59999999999997" width="10.6" height="6.2" rx="1.2" fill="#b4b4b4" stroke="#555" stroke-width="0.7"/>
<text filter="url(#nf)" transform="translate(129.6,297.7) scale(-0.8,1)" text-anchor="middle" font-size="5.85" font-weight="bold" fill="#3a3a3a" stroke="#3a3a3a" stroke-width="0.25" dy="2.11">309</text>
<ellipse cx="389.2" cy="94.2" rx="6.5" ry="3.6" fill="#fff" stroke="#333" stroke-width="0.7"/>
<text filter="url(#nf)" transform="translate(389.2,94.2) scale(-0.8,1)" text-anchor="middle" font-size="5.85" font-weight="bold" fill="#111" stroke="#111" stroke-width="0.25" dy="2.11">148</text>
<ellipse cx="169.6" cy="234.75" rx="6.5" ry="3.6" fill="#fff" stroke="#333" stroke-width="0.7"/>
<text filter="url(#nf)" transform="translate(169.6,234.75) scale(-0.8,1)" text-anchor="middle" font-size="5.85" font-weight="bold" fill="#111" stroke="#111" stroke-width="0.25" dy="2.11">105</text>
<ellipse cx="349" cy="243" rx="6.5" ry="3.6" fill="#fff" stroke="#333" stroke-width="0.7"/>
<text filter="url(#nf)" transform="translate(349,243) scale(-0.8,1)" text-anchor="middle" font-size="5.85" font-weight="bold" fill="#111" stroke="#111" stroke-width="0.25" dy="2.11">101</text>
<ellipse cx="260.8" cy="318.3" rx="6.5" ry="3.6" fill="#fff" stroke="#333" stroke-width="0.7"/>
<text filter="url(#nf)" transform="translate(260.8,318.3) scale(-0.8,1)" text-anchor="middle" font-size="5.85" font-weight="bold" fill="#111" stroke="#111" stroke-width="0.25" dy="2.11">198</text>
<ellipse cx="87.3" cy="333" rx="6.5" ry="3.6" fill="#fff" stroke="#333" stroke-width="0.7"/>
<text filter="url(#nf)" transform="translate(87.3,333) scale(-0.8,1)" text-anchor="middle" font-size="5.85" font-weight="bold" fill="#111" stroke="#111" stroke-width="0.25" dy="2.11">119</text>
<ellipse cx="166.5" cy="363.3" rx="6.5" ry="3.6" fill="#fff" stroke="#333" stroke-width="0.7"/>
<text filter="url(#nf)" transform="translate(166.5,363.3) scale(-0.8,1)" text-anchor="middle" font-size="5.85" font-weight="bold" fill="#111" stroke="#111" stroke-width="0.25" dy="2.11">138</text>
<ellipse cx="61.6" cy="434.3" rx="6.5" ry="3.6" fill="#fff" stroke="#333" stroke-width="0.7"/>
<text filter="url(#nf)" transform="translate(61.6,434.3) scale(-0.8,1)" text-anchor="middle" font-size="5.85" font-weight="bold" fill="#111" stroke="#111" stroke-width="0.25" dy="2.11">132</text>
<ellipse cx="78" cy="471.75" rx="6.5" ry="3.6" fill="#fff" stroke="#333" stroke-width="0.7"/>
<text filter="url(#nf)" transform="translate(78,471.75) scale(-0.8,1)" text-anchor="middle" font-size="5.85" font-weight="bold" fill="#111" stroke="#111" stroke-width="0.25" dy="2.11">141</text>
<ellipse cx="147.5" cy="446.9" rx="6.5" ry="3.6" fill="#fff" stroke="#333" stroke-width="0.7"/>
<text filter="url(#nf)" transform="translate(147.5,446.9) scale(-0.8,1)" text-anchor="middle" font-size="5.85" font-weight="bold" fill="#111" stroke="#111" stroke-width="0.25" dy="2.11">168</text>
<ellipse cx="192.7" cy="442.7" rx="6.5" ry="3.6" fill="#fff" stroke="#333" stroke-width="0.7"/>
<text filter="url(#nf)" transform="translate(192.7,442.7) scale(-0.8,1)" text-anchor="middle" font-size="5.85" font-weight="bold" fill="#111" stroke="#111" stroke-width="0.25" dy="2.11">166</text>
<ellipse cx="151.5" cy="565" rx="6.5" ry="3.6" fill="#fff" stroke="#333" stroke-width="0.7"/>
<text filter="url(#nf)" transform="translate(151.5,565) scale(-0.8,1)" text-anchor="middle" font-size="5.85" font-weight="bold" fill="#111" stroke="#111" stroke-width="0.25" dy="2.11">157</text>
<circle cx="523.75" cy="68" r="3.9" fill="#fff" stroke="#222" stroke-width="0.9"/>
<text filter="url(#nf)" transform="translate(523.75,68) scale(-0.8,1)" text-anchor="middle" font-size="5.62" font-weight="bold" fill="#111" stroke="#111" stroke-width="0.25" dy="2.02">75</text>
<circle cx="505.75" cy="96.75" r="3.9" fill="#fff" stroke="#222" stroke-width="0.9"/>
<text filter="url(#nf)" transform="translate(505.75,96.75) scale(-0.8,1)" text-anchor="middle" font-size="5.62" font-weight="bold" fill="#111" stroke="#111" stroke-width="0.25" dy="2.02">72</text>
<circle cx="555.5" cy="98.75" r="3.9" fill="#fff" stroke="#222" stroke-width="0.9"/>
<text filter="url(#nf)" transform="translate(555.5,98.75) scale(-0.8,1)" text-anchor="middle" font-size="5.62" font-weight="bold" fill="#111" stroke="#111" stroke-width="0.25" dy="2.02">78</text>
<circle cx="623" cy="132" r="3.9" fill="#fff" stroke="#222" stroke-width="0.9"/>
<text filter="url(#nf)" transform="translate(623,132) scale(-0.8,1)" text-anchor="middle" font-size="5.62" font-weight="bold" fill="#111" stroke="#111" stroke-width="0.25" dy="2.02">93</text>
<circle cx="593.8" cy="149.7" r="3.6" fill="#1a1a1a"/>
<text filter="url(#nf)" transform="translate(593.8,149.7) scale(-0.8,1)" text-anchor="middle" font-size="5.38" font-weight="bold" fill="#fff" stroke="#fff" stroke-width="0.25" dy="1.94">91</text>
<circle cx="631.3" cy="169.7" r="3.8" fill="#1a1a1a"/>
<text filter="url(#nf)" transform="translate(631.3,169.7) scale(-0.8,1)" text-anchor="middle" font-size="5.38" font-weight="bold" fill="#fff" stroke="#fff" stroke-width="0.25" dy="1.94">F</text>
<circle cx="563.25" cy="212.5" r="3.6" fill="#1a1a1a"/>
<text filter="url(#nf)" transform="translate(563.25,212.5) scale(-0.8,1)" text-anchor="middle" font-size="5.38" font-weight="bold" fill="#fff" stroke="#fff" stroke-width="0.25" dy="1.94">11</text>
<circle cx="531.25" cy="242" r="3.6" fill="#1a1a1a"/>
<text filter="url(#nf)" transform="translate(531.25,242) scale(-0.8,1)" text-anchor="middle" font-size="5.38" font-weight="bold" fill="#fff" stroke="#fff" stroke-width="0.25" dy="1.94">96</text>
<circle cx="509" cy="289.7" r="3.6" fill="#1a1a1a"/>
<text filter="url(#nf)" transform="translate(509,289.7) scale(-0.8,1)" text-anchor="middle" font-size="5.38" font-weight="bold" fill="#fff" stroke="#fff" stroke-width="0.25" dy="1.94">99</text>
<circle cx="492.7" cy="339" r="3.6" fill="#1a1a1a"/>
<text filter="url(#nf)" transform="translate(492.7,339) scale(-0.8,1)" text-anchor="middle" font-size="5.38" font-weight="bold" fill="#fff" stroke="#fff" stroke-width="0.25" dy="1.94">98</text>
<circle cx="170.5" cy="461.75" r="3.9" fill="#fff" stroke="#222" stroke-width="0.9"/>
<text filter="url(#nf)" transform="translate(170.5,461.75) scale(-0.8,1)" text-anchor="middle" font-size="5.62" font-weight="bold" fill="#111" stroke="#111" stroke-width="0.25" dy="2.02">88</text>
<circle cx="170.5" cy="536.25" r="3.9" fill="#fff" stroke="#222" stroke-width="0.9"/>
<text filter="url(#nf)" transform="translate(170.5,536.25) scale(-0.8,1)" text-anchor="middle" font-size="5.62" font-weight="bold" fill="#111" stroke="#111" stroke-width="0.25" dy="2.02">89</text>
</svg>
</body></html>
